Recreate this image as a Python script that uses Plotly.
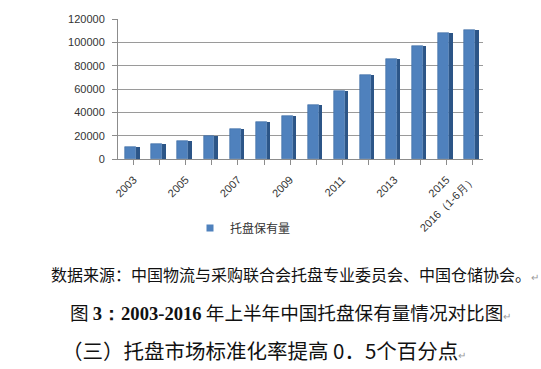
import plotly.graph_objects as go

years = ["2003", "2004", "2005", "2006", "2007", "2008", "2009", "2010",
         "2011", "2012", "2013", "2014", "2015", "2016（1-6月）"]
values = [10000, 12600, 15700, 19400, 25400, 31400, 36500, 46000,
          58300, 72300, 86000, 97000, 108000, 111000]
tick_labels = ["2003", "", "2005", "", "2007", "", "2009", "", "2011", "",
               "2013", "", "2015", "2016（1-6月）"]
series_name = "托盘保有量"

idx = list(range(len(years)))

L, R, T, B = 118, 58, 19, 210
W, H = 541, 369
pw, ph = W - L - R, H - T - B


def px(x):
    return (x - L) / pw


def py(y):
    return (H - B - y) / ph


fig = go.Figure()
# side (depth) face
fig.add_trace(go.Bar(x=idx, y=values, width=0.13, offset=0.1,
                     marker=dict(color="#2c5587", line=dict(width=0)),
                     showlegend=False, hoverinfo="skip"))
fig.add_trace(go.Bar(x=idx, y=values, width=0.42, offset=-0.32, name=series_name,
                     marker=dict(color="#4f81bd", line=dict(color="#3a6aa3", width=0.6)),
                     showlegend=False, legendgroup="s"))
# small square legend key
fig.add_trace(go.Scatter(x=[None], y=[None], mode="markers", name=series_name,
                         legendgroup="s",
                         marker=dict(symbol="square", size=7, color="#4f81bd")))

gray = "#8c8c8c"
fig.update_layout(
    width=W, height=H,
    margin=dict(l=L, r=R, t=T, b=B),
    paper_bgcolor="white", plot_bgcolor="white",
    barmode="overlay", bargap=0,
    font=dict(family="Liberation Sans, Arial", size=11, color="#404040"),
    xaxis=dict(range=[-0.6, 13.4], tickmode="array", tickvals=idx, ticktext=tick_labels,
               tickangle=-45, showline=True, linecolor=gray, ticks="outside",
               ticklen=5, tickcolor=gray, showgrid=False, zeroline=False,
               ticklabelstandoff=4,
               tickfont=dict(size=11, color="#333333")),
    yaxis=dict(range=[0, 120000], dtick=20000, tickformat="d", showgrid=True,
               gridcolor="#9a9a9a", gridwidth=1, showline=True, linecolor=gray,
               ticks="outside", ticklen=5, tickcolor=gray, zeroline=False,
               ticklabelstandoff=5,
               tickfont=dict(size=11, color="#333333")),
    legend=dict(x=px(190), y=py(228), xanchor="left", yanchor="middle",
                font=dict(family="Noto Sans CJK SC", size=12, color="#333333"),
                itemwidth=30, bgcolor="rgba(0,0,0,0)"),
    showlegend=True,
)

ret = '<span style="color:#999999;font-size:10px">↵</span>'
cjk = "Noto Sans CJK SC"
fig.add_annotation(xref="paper", yref="paper", x=px(49), y=py(274), xanchor="left",
                   yanchor="middle", showarrow=False,
                   text="数据来源：中国物流与采购联合会托盘专业委员会、中国仓储协会。" + ret,
                   font=dict(family=cjk, size=16, color="#111111"))
fig.add_annotation(xref="paper", yref="paper", x=px(68), y=py(312), xanchor="left",
                   yanchor="middle", showarrow=False,
                   text='图 <span style="font-family:Liberation Serif"><b>3：2003-2016</b></span> '
                        '年上半年中国托盘保有量情况对比图' + ret,
                   font=dict(family=cjk, size=18.6, color="#111111"))
fig.add_annotation(xref="paper", yref="paper", x=px(60), y=py(350), xanchor="left",
                   yanchor="middle", showarrow=False,
                   text="（三）托盘市场标准化率提高 0．5个百分点" + ret,
                   font=dict(family=cjk, size=20.5, color="#111111"))

fig.write_html("out.html", config={"displayModeBar": False},
               post_script="document.body.style.margin='0px';")
